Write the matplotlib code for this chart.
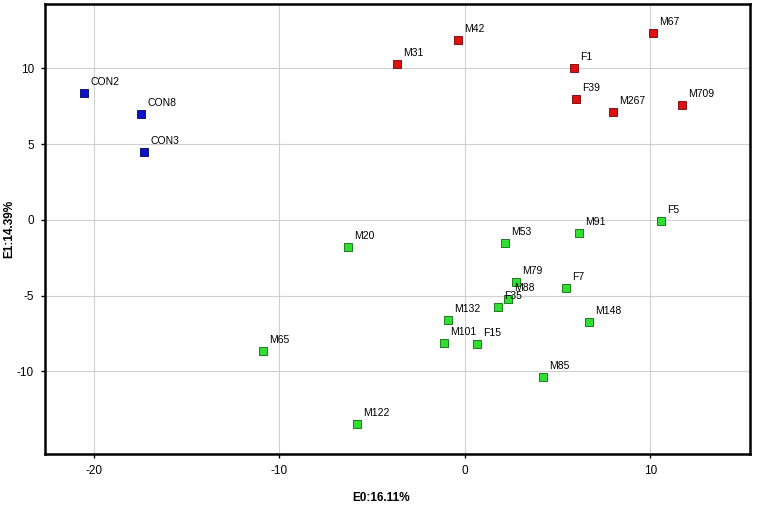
import matplotlib
matplotlib.use("Agg")
import matplotlib.pyplot as plt

plt.rcParams["font.family"] = ["Liberation Sans", "DejaVu Sans"]
plt.rcParams["axes.unicode_minus"] = False

names_blue = ["CON2", "CON8", "CON3"]
x_blue = [-20.54, -17.47, -17.30]
y_blue = [8.36, 6.97, 4.47]

names_red = ["M31", "M42", "M67", "F1", "F39", "M267", "M709"]
x_red = [-3.67, -0.38, 10.13, 5.88, 5.98, 7.98, 11.70]
y_red = [10.27, 11.85, 12.32, 10.00, 7.96, 7.10, 7.57]

names_green = ["F5", "M91", "M53", "M20", "M79", "F7", "M88", "F35", "M132",
               "M101", "F15", "M148", "M65", "M85", "M122"]
x_green = [10.57, 6.15, 2.16, -6.31, 2.75, 5.44, 2.32, 1.78, -0.92,
           -1.13, 0.65, 6.68, -10.89, 4.20, -5.82]
y_green = [-0.09, -0.88, -1.54, -1.80, -4.11, -4.50, -5.23, -5.76, -6.62,
           -8.14, -8.20, -6.75, -8.66, -10.38, -13.47]

xticks = [-20, -10, 0, 10]
yticks = [-10, -5, 0, 5, 10]

fig = plt.figure(figsize=(7.59, 5.12), dpi=100)
ax = fig.add_axes([0.0593, 0.1133, 0.9287, 0.8787])

groups = [
    (names_blue, x_blue, y_blue, "#0a14c8", "#000060"),
    (names_red, x_red, y_red, "#e01010", "#700000"),
    (names_green, x_green, y_green, "#30e030", "#0a6a0a"),
]
for names, xs, ys, fc, ec in groups:
    ax.scatter(xs, ys, s=40, marker="s", c=fc, edgecolors=ec, linewidths=0.6, zorder=3)
    for n, xv, yv in zip(names, xs, ys):
        ax.annotate(n, (xv, yv), xytext=(4.5, 6), textcoords="offset points",
                    fontsize=7.5, color="black", zorder=4)

ax.set_xlim(-22.64, 15.36)
ax.set_ylim(-15.45, 14.23)
ax.set_xticks(xticks)
ax.set_yticks(yticks)
ax.grid(True, color="#d0d0d0", linewidth=0.8)
ax.set_axisbelow(True)
for sp in ax.spines.values():
    sp.set_linewidth(1.8)
    sp.set_color("black")
ax.tick_params(direction="out", length=3, width=1, labelsize=8.5, pad=5)

ax.set_xlabel("E0:16.11%", fontsize=8.5, fontweight="bold")
ax.xaxis.set_label_coords(0.477, -0.085)
ax.set_ylabel("E1:14.39%", fontsize=8.5, fontweight="bold")
ax.yaxis.set_label_coords(-0.042, 0.5)

fig.savefig("out.png", dpi=100)
